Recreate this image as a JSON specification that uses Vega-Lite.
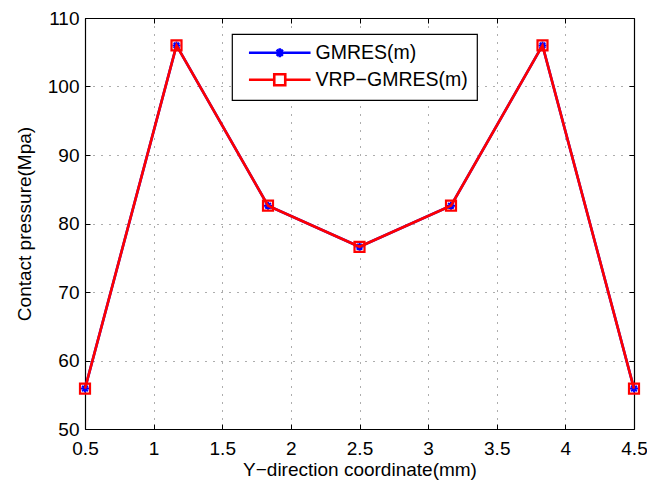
{
  "$schema": "https://vega.github.io/schema/vega-lite/v6.json",
  "autosize": {"type": "none"},
  "padding": {"left": 85, "top": 18, "right": 13, "bottom": 53},
  "width": 549,
  "height": 411,
  "background": "white",
  "config": {
    "font": "Liberation Sans",
    "view": {"stroke": null},
    "axis": {
      "labelFont": "Liberation Sans",
      "titleFont": "Liberation Sans",
      "labelFontSize": 19,
      "titleFontSize": 19,
      "titleFontWeight": "normal",
      "labelColor": "black",
      "titleColor": "black",
      "domainColor": "black",
      "domainWidth": 1.2,
      "tickColor": "black",
      "tickWidth": 1,
      "gridColor": "#333333",
      "gridDash": [1, 7],
      "gridWidth": 1,
      "gridOpacity": 0.8,
      "labelFlush": false
    }
  },
  "data": {
    "values": [
      {"x": 0.5, "y": 55.9, "series": "GMRES(m)"},
      {"x": 1.1667, "y": 106.0, "series": "GMRES(m)"},
      {"x": 1.8333, "y": 82.6, "series": "GMRES(m)"},
      {"x": 2.5, "y": 76.6, "series": "GMRES(m)"},
      {"x": 3.1667, "y": 82.6, "series": "GMRES(m)"},
      {"x": 3.8333, "y": 106.0, "series": "GMRES(m)"},
      {"x": 4.5, "y": 55.9, "series": "GMRES(m)"},
      {"x": 0.5, "y": 55.9, "series": "VRP−GMRES(m)"},
      {"x": 1.1667, "y": 106.0, "series": "VRP−GMRES(m)"},
      {"x": 1.8333, "y": 82.6, "series": "VRP−GMRES(m)"},
      {"x": 2.5, "y": 76.6, "series": "VRP−GMRES(m)"},
      {"x": 3.1667, "y": 82.6, "series": "VRP−GMRES(m)"},
      {"x": 3.8333, "y": 106.0, "series": "VRP−GMRES(m)"},
      {"x": 4.5, "y": 55.9, "series": "VRP−GMRES(m)"}
    ]
  },
  "resolve": {"axis": {"x": "independent", "y": "independent"}},
  "layer": [
    {
      "transform": [{"filter": "datum.series === 'GMRES(m)'"}],
      "mark": {"type": "line", "strokeWidth": 2.6},
      "encoding": {
        "x": {
          "field": "x", "type": "quantitative",
          "scale": {"domain": [0.5, 4.5], "nice": false, "zero": false},
          "axis": {
            "title": "Y−direction coordinate(mm)",
            "values": [0.5, 1, 1.5, 2, 2.5, 3, 3.5, 4, 4.5],
            "format": "~g",
            "grid": true,
            "tickSize": -5,
            "labelPadding": 15,
            "titlePadding": 2
          }
        },
        "y": {
          "field": "y", "type": "quantitative",
          "scale": {"domain": [50, 110], "nice": false, "zero": false},
          "axis": {
            "title": "Contact pressure(Mpa)",
            "values": [50, 60, 70, 80, 90, 100, 110],
            "grid": true,
            "tickSize": -5,
            "labelPadding": 11,
            "titlePadding": 13
          }
        },
        "color": {
          "field": "series", "type": "nominal",
          "scale": {"domain": ["GMRES(m)", "VRP−GMRES(m)"], "range": ["#0000ff", "#ff0000"]},
          "legend": {
            "orient": "none",
            "legendX": 147,
            "legendY": 16,
            "title": null,
            "fillColor": "white",
            "strokeColor": "black",
            "cornerRadius": 0,
            "padding": 9,
            "symbolSize": 121,
            "symbolOffset": 29,
            "labelOffset": 26,
            "rowPadding": 6,
            "symbolStrokeWidth": 2.6,
            "labelFont": "Liberation Sans",
            "labelFontSize": 19.5,
            "labelColor": "black",
            "encoding": {
              "legend": {"strokeWidth": {"value": 1.2}},
              "symbols": {
                "shape": {"value": {"expr": "datum.value === 'GMRES(m)' ? 'M-5.6,0L5.6,0M-0.8,0L0.8,0M0,-0.8L0,0.8M-0.56,-0.56L0.56,0.56M-0.56,0.56L0.56,-0.56' : 'M-5.6,0L-1,0M1,0L5.6,0M-1,-1L1,-1L1,1L-1,1Z'"}},
                "fill": {"value": "transparent"},
                "strokeWidth": {"value": 2.6},
                "opacity": {"value": 1}
              }
            }
          }
        }
      }
    },
    {
      "transform": [{"filter": "datum.series === 'GMRES(m)'"}],
      "mark": {"type": "point", "filled": false, "strokeWidth": 2, "opacity": 1,
               "shape": "M-1,0L1,0M0,-1L0,1M-0.7,-0.7L0.7,0.7M-0.7,0.7L0.7,-0.7", "size": 64},
      "encoding": {
        "x": {"field": "x", "type": "quantitative",
              "axis": {"orient": "top", "labels": false, "title": null, "grid": false, "tickSize": -5,
                       "values": [0.5, 1, 1.5, 2, 2.5, 3, 3.5, 4, 4.5]}},
        "y": {"field": "y", "type": "quantitative",
              "axis": {"orient": "right", "labels": false, "title": null, "grid": false, "tickSize": -5,
                       "values": [50, 60, 70, 80, 90, 100, 110]}},
        "color": {"field": "series", "type": "nominal"}
      }
    },
    {
      "transform": [{"filter": "datum.series !== 'GMRES(m)'"}],
      "mark": {"type": "line", "strokeWidth": 2.6},
      "encoding": {
        "x": {"field": "x", "type": "quantitative", "axis": null},
        "y": {"field": "y", "type": "quantitative", "axis": null},
        "color": {"field": "series", "type": "nominal"}
      }
    },
    {
      "transform": [{"filter": "datum.series !== 'GMRES(m)'"}],
      "mark": {"type": "point", "filled": false, "strokeWidth": 2.2, "opacity": 1, "shape": "square", "size": 100},
      "encoding": {
        "x": {"field": "x", "type": "quantitative", "axis": null},
        "y": {"field": "y", "type": "quantitative", "axis": null},
        "color": {"field": "series", "type": "nominal"}
      }
    }
  ]
}
